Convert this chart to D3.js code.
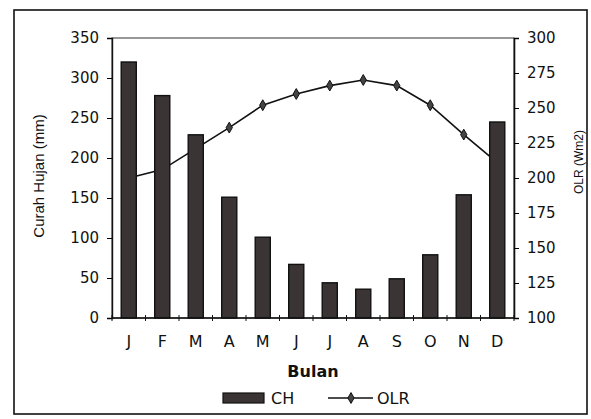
<!DOCTYPE html>
<html>
<head>
<meta charset="utf-8">
<script src="https://cdn.jsdelivr.net/npm/d3@7"></script>
<style>
  body { margin: 0; background: #fff; }
  text { font-family: "DejaVu Sans", sans-serif; fill: #111; }
</style>
</head>
<body>
<div id="chart"></div>
<script>
// data
var months = ["J", "F", "M", "A", "M", "J", "J", "A", "S", "O", "N", "D"];
var curahHujan = [320, 278, 229, 151, 101, 67, 44, 36, 49, 79, 154, 245];
var olr = [200, 206, 221, 236, 252, 260, 266, 270, 266, 252, 231, 211];
var leftTicks = [0, 50, 100, 150, 200, 250, 300, 350];
var rightTicks = [100, 125, 150, 175, 200, 225, 250, 275, 300];

var width = 591, height = 419;
var plot = {left: 112, right: 514, top: 38, bottom: 318};

var svg = d3.select("#chart").append("svg")
    .attr("width", width)
    .attr("height", height);

// outer frame
svg.append("rect")
    .attr("x", 14).attr("y", 10)
    .attr("width", 573).attr("height", 404)
    .attr("fill", "none")
    .attr("stroke", "#111")
    .attr("stroke-width", 1.6);

var x = d3.scaleBand()
    .domain(d3.range(months.length))
    .range([plot.left, plot.right]);

var yL = d3.scaleLinear().domain([0, 350]).range([plot.bottom, plot.top]);
var yR = d3.scaleLinear().domain([100, 300]).range([plot.bottom, plot.top]);

// plot area border
svg.append("rect")
    .attr("x", plot.left).attr("y", plot.top)
    .attr("width", plot.right - plot.left)
    .attr("height", plot.bottom - plot.top)
    .attr("fill", "none")
    .attr("stroke", "#333")
    .attr("stroke-width", 1);

// OLR line (sits behind the bars, as in the original)
var line = d3.line()
    .x(function (d, i) { return x(i) + x.bandwidth() / 2; })
    .y(function (d) { return yR(d); });

svg.append("path")
    .datum(olr)
    .attr("d", line)
    .attr("fill", "none")
    .attr("stroke", "#111")
    .attr("stroke-width", 1.6);

var diamond = d3.symbol().type(d3.symbolDiamond).size(34);
svg.selectAll(".pt")
    .data(olr)
    .enter().append("path")
    .attr("class", "pt")
    .attr("d", diamond)
    .attr("transform", function (d, i) {
        return "translate(" + (x(i) + x.bandwidth() / 2) + "," + yR(d) + ")";
    })
    .attr("fill", "#444")
    .attr("stroke", "#111")
    .attr("stroke-width", 1);

// bars
var barW = x.bandwidth() * 0.45;
svg.selectAll(".bar")
    .data(curahHujan)
    .enter().append("rect")
    .attr("class", "bar")
    .attr("x", function (d, i) { return x(i) + (x.bandwidth() - barW) / 2; })
    .attr("y", function (d) { return yL(d); })
    .attr("width", barW)
    .attr("height", function (d) { return yL(0) - yL(d); })
    .attr("fill", "#3b3434")
    .attr("stroke", "#111")
    .attr("stroke-width", 1.4);

// left axis
var axL = svg.append("g")
    .attr("transform", "translate(" + plot.left + ",0)")
    .call(d3.axisLeft(yL).tickValues(leftTicks).tickSize(5).tickPadding(8));
axL.select(".domain").attr("stroke", "#111").attr("stroke-width", 1.4);
axL.selectAll("text").style("font-size", "15px");

// right axis
var axR = svg.append("g")
    .attr("transform", "translate(" + plot.right + ",0)")
    .call(d3.axisRight(yR).tickValues(rightTicks).tickSize(5).tickPadding(8));
axR.select(".domain").attr("stroke", "#111").attr("stroke-width", 1.6);
axR.selectAll("text").style("font-size", "15px");

// bottom axis: cross ticks between categories, labels centred
svg.append("line")
    .attr("x1", plot.left).attr("x2", plot.right)
    .attr("y1", plot.bottom).attr("y2", plot.bottom)
    .attr("stroke", "#111").attr("stroke-width", 1.4);

svg.selectAll(".xtick")
    .data(d3.range(months.length + 1))
    .enter().append("line")
    .attr("class", "xtick")
    .attr("x1", function (d) { return plot.left + d * x.step(); })
    .attr("x2", function (d) { return plot.left + d * x.step(); })
    .attr("y1", plot.bottom - 3)
    .attr("y2", plot.bottom + 3)
    .attr("stroke", "#111");

svg.selectAll(".xlab")
    .data(months)
    .enter().append("text")
    .attr("class", "xlab")
    .attr("x", function (d, i) { return x(i) + x.bandwidth() / 2; })
    .attr("y", 347)
    .attr("text-anchor", "middle")
    .style("font-size", "16px")
    .text(function (d) { return d; });

// axis titles
svg.append("text")
    .attr("x", 313).attr("y", 377)
    .attr("text-anchor", "middle")
    .style("font-size", "16px")
    .style("font-weight", "bold")
    .text("Bulan");

svg.append("text")
    .attr("transform", "translate(44,176) rotate(-90)")
    .attr("text-anchor", "middle")
    .style("font-family", "'Liberation Sans', Arial, sans-serif")
    .style("font-size", "15px")
    .text("Curah Hujan (mm)");

svg.append("text")
    .attr("transform", "translate(583,162) rotate(-90)")
    .attr("text-anchor", "middle")
    .style("font-family", "'Liberation Sans', Arial, sans-serif")
    .style("font-size", "12px")
    .text("OLR (Wm2)");

// legend
var legend = svg.append("g").attr("transform", "translate(0,398)");
legend.append("rect")
    .attr("x", 223).attr("y", -5)
    .attr("width", 41).attr("height", 10)
    .attr("fill", "#3b3434")
    .attr("stroke", "#111")
    .attr("stroke-width", 1.2);
legend.append("text")
    .attr("x", 271).attr("y", 6)
    .style("font-size", "16px")
    .text("CH");
legend.append("line")
    .attr("x1", 328).attr("x2", 373)
    .attr("y1", 0).attr("y2", 0)
    .attr("stroke", "#111").attr("stroke-width", 1.6);
legend.append("path")
    .attr("d", diamond)
    .attr("transform", "translate(351,0)")
    .attr("fill", "#444")
    .attr("stroke", "#111");
legend.append("text")
    .attr("x", 377).attr("y", 6)
    .style("font-size", "16px")
    .text("OLR");
</script>
</body>
</html>
